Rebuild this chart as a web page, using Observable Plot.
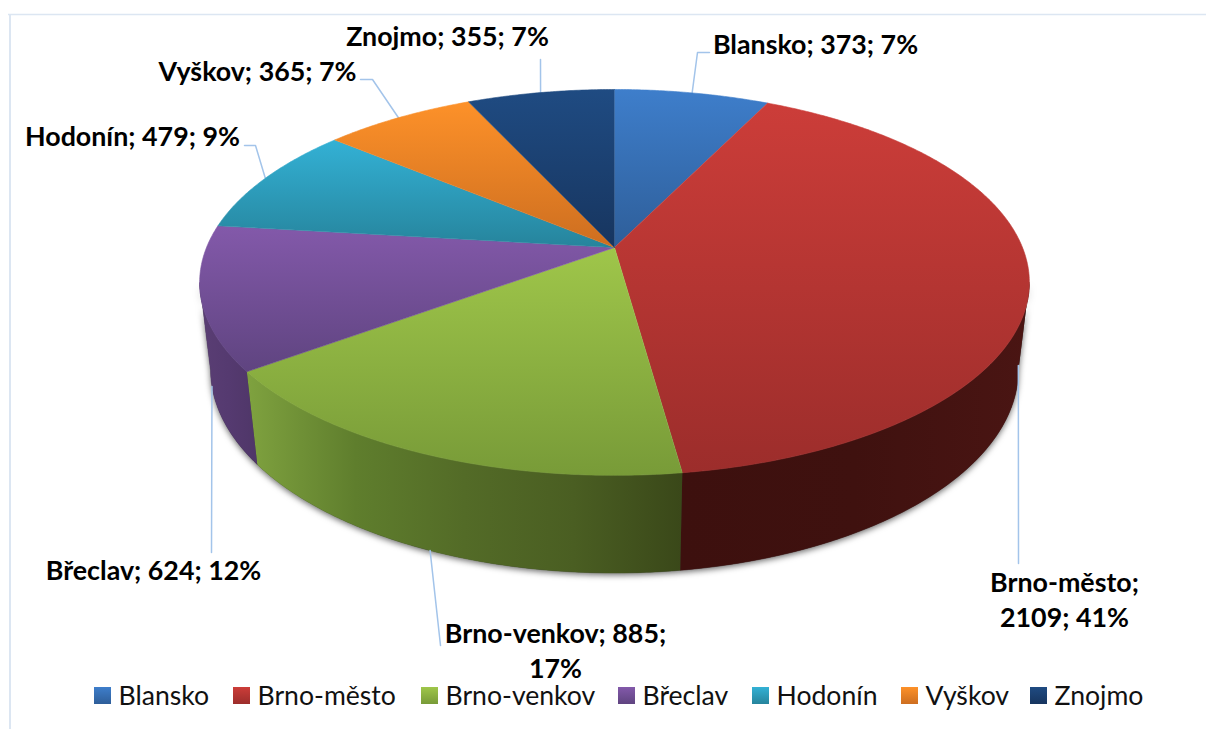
<!DOCTYPE html>
<html>
<head>
<meta charset="utf-8">
<script src="https://cdn.jsdelivr.net/npm/d3@7"></script>
<script src="https://cdn.jsdelivr.net/npm/@observablehq/plot@0.6"></script>
<style>html,body{margin:0;padding:0;background:#fff}svg{display:block}</style>
</head>
<body>
<div id="chart"></div>
<script>
// ---- data ----
const districts = ["Blansko", "Brno-město", "Brno-venkov", "Břeclav", "Hodonín", "Vyškov", "Znojmo"];
const counts = [373, 2109, 885, 624, 479, 365, 355];
const percents = [7, 41, 17, 12, 9, 7, 7];

// ---- styles ----
const topColors = [["#3e7ecb","#2e5e99"],["#cc3d39","#9c2d2b"],["#9fc64a","#789b38"],["#8359aa","#5f4480"],["#33b1d5","#26849c"],["#fd9129","#cd6e20"],["#1f4b82","#17355f"]];
const wallStops = {1:["#3d100e","#3f110f","#4a1513"],2:["#7fa23f","#5f7e2d","#536b27","#4a5e22","#3a4819"],3:["#5a3e74","#553a70","#4f3668"]};
const leaderColor = "#a3c4ea";
const frameColor = "#dce6f2";
const labelFont = {fontFamily: "Lato", fontSize: 26.8};

// ---- layout ----
const W = 1206, H = 729;
const labelAt = [[815,42],[1064,598],[555,649],[153,568],[132,134],[257,69],[447,34]];
const leaderRest = [[[697,52],[709,52]],[[1018,563]],[[440,645]],[[211,552]],[[255,145],[244,145]],[[372,79],[360,79]],[[540,59]]];
const leaderOnBase = [false,true,true,true,false,false,false];
const legendSwatch = [94,233,421,618,752,901,1030];
const legendText = [118,257,445,642,776,925,1054];

// perspective projection of the disc
const cx = 614, cy = 247, R = 408, S = 186.6, k = 0.181, m = 0.0262, T = 88.5;
const rimRight = Math.acos(-k) * 180 / Math.PI, rimLeft = 360 - rimRight;
function project(deg, base) {
  const a = deg * Math.PI / 180, u = Math.sin(a), v = -Math.cos(a);
  const w = 1 - k * v + (base ? m : 0);
  return {x: cx + R * u / w, y: cy + (S * v + (base ? T : 0)) / w};
}
const total = d3.sum(counts);
const ends = Array.from(d3.cumsum(counts), c => c / total * 360);
const starts = ends.map((e, i) => i ? ends[i - 1] : 0);
function arc(a0, a1, base) {
  const n = Math.max(2, Math.ceil((a1 - a0) * 2));
  return d3.range(n + 1).map(i => project(a0 + (a1 - a0) * i / n, base));
}
const band = (a0, a1) => [...arc(a0, a1, false), ...arc(a0, a1, true).reverse()];

const defs = () => {
  const d = d3.create("svg:defs");
  topColors.forEach((c, i) => {
    const g = d.append("linearGradient").attr("id", "top" + i).attr("x1", 0).attr("y1", 0).attr("x2", 0).attr("y2", 1);
    g.append("stop").attr("offset", 0).attr("stop-color", c[0]);
    g.append("stop").attr("offset", 1).attr("stop-color", c[1]);
  });
  Object.entries(wallStops).forEach(([i, c]) => {
    const g = d.append("linearGradient").attr("id", "wall" + i).attr("x1", 0).attr("y1", 0).attr("x2", 1).attr("y2", 0);
    c.forEach((col, j) => g.append("stop").attr("offset", j / (c.length - 1)).attr("stop-color", col));
  });
  return d.node();
};

const marks = [defs];
// chart frame
marks.push(Plot.ruleY([14], {x1: 8, x2: W, stroke: frameColor, strokeWidth: 1.5}));
marks.push(Plot.ruleX([9.5], {y1: 14, y2: H, stroke: frameColor, strokeWidth: 2}));
// ground shadow
marks.push(Plot.line(band(rimRight, rimLeft), {x: "x", y: "y", fill: "#333", stroke: "none", imageFilter: "drop-shadow(0 2px 3px rgba(0,0,0,.6))"}));
// walls
districts.forEach((name, i) => {
  if (!wallStops[i]) return;
  const a0 = Math.max(starts[i], rimRight), a1 = Math.min(ends[i], rimLeft);
  marks.push(Plot.line(band(a0, a1), {x: "x", y: "y", fill: `url(#wall${i})`, stroke: `url(#wall${i})`, strokeWidth: 0.5}));
});
// leaders
districts.forEach((name, i) => {
  const pts = [project((starts[i] + ends[i]) / 2, leaderOnBase[i]), ...leaderRest[i].map(([x, y]) => ({x, y}))];
  marks.push(Plot.line(pts, {x: "x", y: "y", stroke: leaderColor, strokeWidth: 1.5}));
});
// top slices
districts.forEach((name, i) => {
  const pts = [{x: cx, y: cy}, ...arc(starts[i], ends[i], false)];
  marks.push(Plot.line(pts, {x: "x", y: "y", fill: `url(#top${i})`, stroke: `url(#top${i})`, strokeWidth: 0.6}));
});
// data labels
const labels = districts.map((name, i) => {
  const v = counts[i], p = percents[i];
  const text = i === 1 ? `${name};\n${v}; ${p}%`
             : i === 2 ? `${name}; ${v};\n${p}%`
             : `${name}; ${v}; ${p}%`;
  return {text, x: labelAt[i][0], y: labelAt[i][1]};
});
marks.push(Plot.text(labels, {x: "x", y: "y", text: "text", textAnchor: "middle", lineAnchor: "middle", lineHeight: 1.3, fontWeight: "bold", fill: "#000", ...labelFont}));
// legend
districts.forEach((name, i) => {
  marks.push(Plot.rect([{x1: legendSwatch[i], x2: legendSwatch[i] + 17, y1: 687, y2: 704}], {x1: "x1", x2: "x2", y1: "y1", y2: "y2", fill: `url(#top${i})`}));
});
marks.push(Plot.text(districts.map((t, i) => ({t, x: legendText[i]})), {x: "x", y: 695.5, text: "t", textAnchor: "start", lineAnchor: "middle", fill: "#111", fontFamily: "Lato", fontSize: 26.6}));

const chart = Plot.plot({
  width: W, height: H, margin: 0,
  style: {background: "#fff"},
  x: {domain: [0, W], range: [0, W], axis: null},
  y: {domain: [0, H], range: [0, H], axis: null},
  marks
});
document.getElementById("chart").appendChild(chart);
</script>
</body>
</html>
